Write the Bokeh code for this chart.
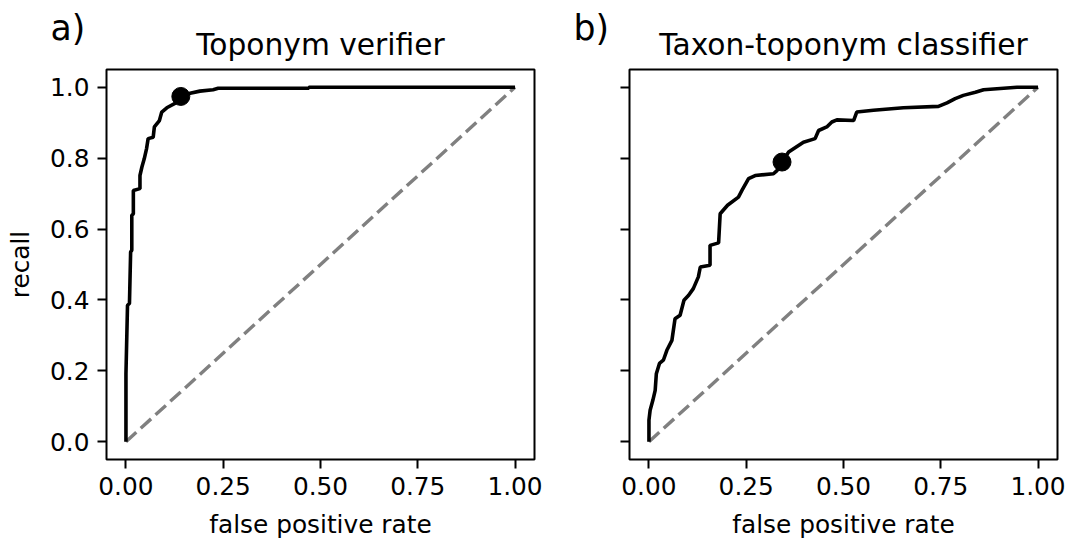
from bokeh.plotting import figure
from bokeh.layouts import row, column
from bokeh.models import Range1d, FixedTicker, Label
from bokeh.embed import file_html
from bokeh.resources import INLINE

# ROC curve of the toponym verifier (false positive rate, recall)
verifier_fpr = [0.0, 0.0, 0.004, 0.009, 0.012, 0.015, 0.015, 0.019, 0.019, 0.036,
                0.036, 0.041, 0.047, 0.053, 0.057, 0.070, 0.073, 0.086, 0.092, 0.105,
                0.132, 0.141, 0.165, 0.190, 0.224, 0.237, 0.470, 0.470, 1.0]
verifier_recall = [0.0, 0.192, 0.385, 0.390, 0.535, 0.540, 0.639, 0.643, 0.709, 0.714,
                   0.751, 0.775, 0.798, 0.827, 0.855, 0.859, 0.888, 0.906, 0.930, 0.942,
                   0.958, 0.974, 0.983, 0.989, 0.993, 0.997, 0.997, 1.0, 1.0]

# ROC curve of the taxon-toponym classifier
classifier_fpr = [0.0, 0.0, 0.003, 0.010, 0.016, 0.019, 0.027, 0.037, 0.046, 0.059,
                  0.067, 0.080, 0.090, 0.102, 0.114, 0.127, 0.132, 0.157, 0.157, 0.179,
                  0.183, 0.202, 0.230, 0.239, 0.256, 0.273, 0.320, 0.329, 0.342, 0.359,
                  0.397, 0.427, 0.436, 0.457, 0.470, 0.483, 0.526, 0.534, 0.577, 0.654,
                  0.744, 0.766, 0.787, 0.808, 0.839, 0.860, 0.946, 1.0]
classifier_recall = [0.0, 0.061, 0.089, 0.117, 0.145, 0.192, 0.221, 0.230, 0.258, 0.286,
                     0.347, 0.357, 0.399, 0.413, 0.432, 0.465, 0.493, 0.498, 0.554, 0.561,
                     0.643, 0.667, 0.690, 0.709, 0.742, 0.751, 0.756, 0.765, 0.789, 0.817,
                     0.845, 0.855, 0.878, 0.888, 0.902, 0.908, 0.906, 0.930, 0.935, 0.942,
                     0.946, 0.956, 0.968, 0.977, 0.986, 0.993, 1.0, 1.0]

# chosen operating points
verifier_point = (0.141, 0.974)
classifier_point = (0.342, 0.789)

# chance diagonal
chance_x = [0.0, 1.0]
chance_y = [0.0, 1.0]

x_ticks = [0.0, 0.25, 0.5, 0.75, 1.0]
x_tick_labels = ["0.00", "0.25", "0.50", "0.75", "1.00"]
y_ticks = [0.0, 0.2, 0.4, 0.6, 0.8, 1.0]
y_tick_labels = ["0.0", "0.2", "0.4", "0.6", "0.8", "1.0"]

panel_titles = ["Toponym verifier", "Taxon-toponym classifier"]
panel_letters = ["a)", "b)"]

FONT = "DejaVu Sans"
TICK_SIZE = "24.8px"
TITLE_SIZE = "29.7px"
LETTER_SIZE = "34.7px"
FRAME_W = 428
FRAME_H = 390
HEADER_H = 66
TOTAL_W = 1071


def make_panel(fpr, recall, point, border_left, border_right, show_ylabels):
    p = figure(frame_width=FRAME_W, frame_height=FRAME_H,
               min_border_left=border_left, min_border_right=border_right,
               min_border_top=3, min_border_bottom=82,
               x_range=Range1d(-0.05, 1.05), y_range=Range1d(-0.05, 1.05),
               output_backend="svg", toolbar_location=None,
               background_fill_color="white", border_fill_color="white")
    p.grid.visible = False
    p.outline_line_color = "black"
    p.outline_line_width = 2

    for ax in (p.xaxis[0], p.yaxis[0]):
        ax.axis_line_color = None
        ax.major_tick_out = 9
        ax.major_tick_in = 0
        ax.major_tick_line_width = 2
        ax.major_tick_line_color = "black"
        ax.minor_tick_line_color = None
        ax.major_label_text_font = FONT
        ax.major_label_text_font_size = TICK_SIZE
        ax.major_label_text_color = "black"
        ax.major_label_standoff = 8
        ax.axis_label_text_font = FONT
        ax.axis_label_text_font_size = TICK_SIZE
        ax.axis_label_text_font_style = "normal"
        ax.axis_label_text_color = "black"

    p.xaxis.ticker = FixedTicker(ticks=x_ticks)
    p.xaxis.major_label_overrides = dict(zip(x_ticks, x_tick_labels))
    p.xaxis.axis_label = "false positive rate"
    p.xaxis.axis_label_standoff = 12

    p.yaxis.ticker = FixedTicker(ticks=y_ticks)
    if show_ylabels:
        p.yaxis.major_label_overrides = dict(zip(y_ticks, y_tick_labels))
        p.yaxis.axis_label = "recall"
        p.yaxis.axis_label_standoff = 12
    else:
        # shared y axis: ticks only, no labels
        p.yaxis.major_label_text_font_size = "1px"
        p.yaxis.major_label_text_color = None
        p.yaxis.major_label_standoff = 0

    p.line(chance_x, chance_y, line_color="#808080", line_width=3.4, line_dash="14 6")
    p.line(fpr, recall, line_color="black", line_width=3.6)
    p.scatter([point[0]], [point[1]], size=18, color="black")
    return p


p1 = make_panel(verifier_fpr, verifier_recall, verifier_point, 106, 46, True)
p2 = make_panel(classifier_fpr, classifier_recall, classifier_point, 49, 14, False)

# header strip carrying the panel letters and titles
header = figure(width=TOTAL_W, height=HEADER_H, min_border=0,
                x_axis_type=None, y_axis_type=None,
                output_backend="svg", toolbar_location=None)
header.grid.visible = False
header.outline_line_color = None

frame_lefts = [106, 580 + 49]
for left, title, letter in zip(frame_lefts, panel_titles, panel_letters):
    header.add_layout(Label(x=left + FRAME_W / 2, y=22, x_units="screen", y_units="screen",
                            text=title, text_font=FONT, text_font_size=TITLE_SIZE,
                            text_align="center", text_baseline="alphabetic", text_color="black"))
    header.add_layout(Label(x=left - 56, y=38.5, x_units="screen", y_units="screen",
                            text=letter, text_font=FONT, text_font_size=LETTER_SIZE,
                            text_align="left", text_baseline="alphabetic", text_color="black"))

layout = column(header, row(p1, p2))
open("out.html", "w").write(file_html(layout, INLINE))
